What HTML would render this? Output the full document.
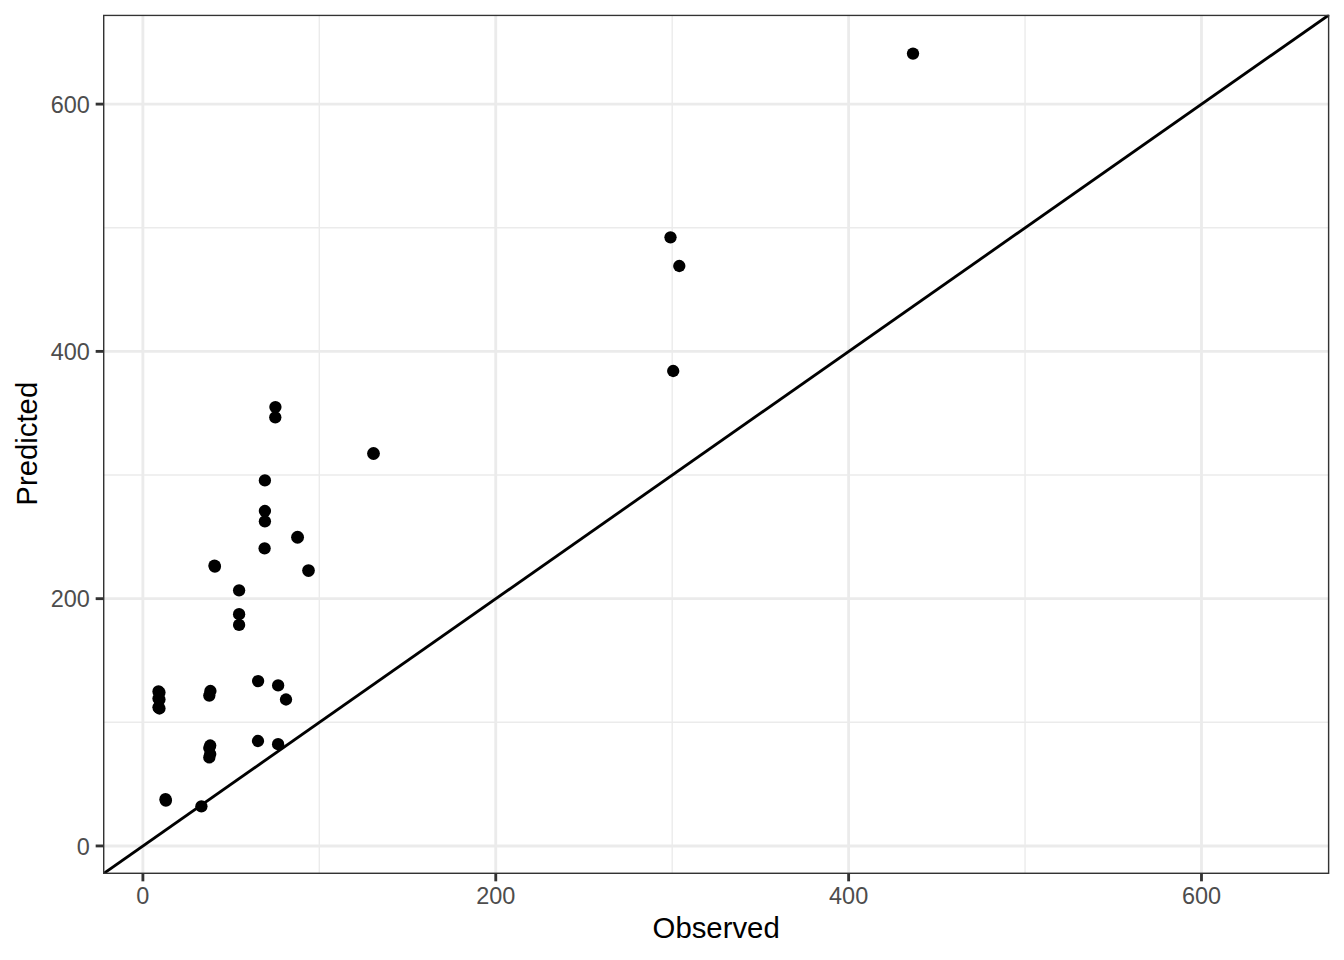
<!DOCTYPE html>
<html><head><meta charset="utf-8"><title>Observed vs Predicted</title>
<style>html,body{margin:0;padding:0;background:#fff;width:1344px;height:960px;overflow:hidden}svg{display:block}text{font-family:"Liberation Sans",Arial,Helvetica,sans-serif}</style></head><body>
<svg width="1344" height="960" viewBox="0 0 1344 960">
<rect x="0" y="0" width="1344" height="960" fill="#fff"/>
<defs><clipPath id="pc"><rect x="103.0" y="14.67" width="1226.33" height="859.33"/></clipPath></defs>
<g clip-path="url(#pc)">
<line x1="103.0" x2="1329.33" y1="722.31" y2="722.31" stroke="#EBEBEB" stroke-width="1.42"/>
<line x1="103.0" x2="1329.33" y1="475.03" y2="475.03" stroke="#EBEBEB" stroke-width="1.42"/>
<line x1="103.0" x2="1329.33" y1="227.75" y2="227.75" stroke="#EBEBEB" stroke-width="1.42"/>
<line y1="14.67" y2="874.0" x1="319.33" x2="319.33" stroke="#EBEBEB" stroke-width="1.42"/>
<line y1="14.67" y2="874.0" x1="672.19" x2="672.19" stroke="#EBEBEB" stroke-width="1.42"/>
<line y1="14.67" y2="874.0" x1="1025.05" x2="1025.05" stroke="#EBEBEB" stroke-width="1.42"/>
<line x1="103.0" x2="1329.33" y1="845.95" y2="845.95" stroke="#EBEBEB" stroke-width="2.85"/>
<line x1="103.0" x2="1329.33" y1="598.67" y2="598.67" stroke="#EBEBEB" stroke-width="2.85"/>
<line x1="103.0" x2="1329.33" y1="351.39" y2="351.39" stroke="#EBEBEB" stroke-width="2.85"/>
<line x1="103.0" x2="1329.33" y1="104.11" y2="104.11" stroke="#EBEBEB" stroke-width="2.85"/>
<line y1="14.67" y2="874.0" x1="142.90" x2="142.90" stroke="#EBEBEB" stroke-width="2.85"/>
<line y1="14.67" y2="874.0" x1="495.76" x2="495.76" stroke="#EBEBEB" stroke-width="2.85"/>
<line y1="14.67" y2="874.0" x1="848.62" x2="848.62" stroke="#EBEBEB" stroke-width="2.85"/>
<line y1="14.67" y2="874.0" x1="1201.48" x2="1201.48" stroke="#EBEBEB" stroke-width="2.85"/>
<line x1="103.0" y1="874.0" x2="1329.33" y2="14.67" stroke="#000" stroke-width="2.85" stroke-linecap="butt"/>
<circle cx="913.0" cy="53.6" r="6.16" fill="#000"/>
<circle cx="670.5" cy="237.3" r="6.16" fill="#000"/>
<circle cx="679.3" cy="266.0" r="6.16" fill="#000"/>
<circle cx="673.2" cy="371.0" r="6.16" fill="#000"/>
<circle cx="275.4" cy="407.1" r="6.16" fill="#000"/>
<circle cx="275.3" cy="417.3" r="6.16" fill="#000"/>
<circle cx="373.5" cy="453.5" r="6.4" fill="#000"/>
<circle cx="264.9" cy="480.4" r="6.16" fill="#000"/>
<circle cx="264.9" cy="511.0" r="6.16" fill="#000"/>
<circle cx="264.9" cy="521.3" r="6.16" fill="#000"/>
<circle cx="297.56" cy="537.2" r="6.45" fill="#000"/>
<circle cx="264.6" cy="548.3" r="6.16" fill="#000"/>
<circle cx="214.5" cy="565.6" r="6.16" fill="#000"/>
<circle cx="214.9" cy="566.6" r="6.16" fill="#000"/>
<circle cx="308.5" cy="570.55" r="6.35" fill="#000"/>
<circle cx="239.1" cy="590.3" r="6.16" fill="#000"/>
<circle cx="239.1" cy="614.2" r="6.16" fill="#000"/>
<circle cx="239.1" cy="624.9" r="6.16" fill="#000"/>
<circle cx="158.5" cy="691.4" r="6.16" fill="#000"/>
<circle cx="159.45" cy="692.5" r="6.16" fill="#000"/>
<circle cx="158.5" cy="698.5" r="6.16" fill="#000"/>
<circle cx="159.45" cy="699.6" r="6.16" fill="#000"/>
<circle cx="158.5" cy="707.3" r="6.16" fill="#000"/>
<circle cx="159.45" cy="708.5" r="6.16" fill="#000"/>
<circle cx="210.4" cy="691.0" r="6.16" fill="#000"/>
<circle cx="209.3" cy="695.6" r="6.16" fill="#000"/>
<circle cx="258.1" cy="681.1" r="6.16" fill="#000"/>
<circle cx="278.15" cy="685.4" r="6.16" fill="#000"/>
<circle cx="286.0" cy="699.5" r="6.16" fill="#000"/>
<circle cx="210.2" cy="745.5" r="6.16" fill="#000"/>
<circle cx="209.3" cy="748.0" r="6.16" fill="#000"/>
<circle cx="210.2" cy="754.0" r="6.16" fill="#000"/>
<circle cx="209.3" cy="757.4" r="6.16" fill="#000"/>
<circle cx="258.0" cy="741.0" r="6.16" fill="#000"/>
<circle cx="278.1" cy="744.2" r="6.16" fill="#000"/>
<circle cx="165.5" cy="799.2" r="6.16" fill="#000"/>
<circle cx="165.9" cy="800.6" r="6.16" fill="#000"/>
<circle cx="201.4" cy="806.3" r="6.16" fill="#000"/>
<rect x="103.0" y="14.67" width="1226.33" height="859.33" fill="none" stroke="#333333" stroke-width="2.85"/>
</g>
<line x1="95.67" x2="103.0" y1="845.95" y2="845.95" stroke="#333333" stroke-width="2.85"/>
<line x1="95.67" x2="103.0" y1="598.67" y2="598.67" stroke="#333333" stroke-width="2.85"/>
<line x1="95.67" x2="103.0" y1="351.39" y2="351.39" stroke="#333333" stroke-width="2.85"/>
<line x1="95.67" x2="103.0" y1="104.11" y2="104.11" stroke="#333333" stroke-width="2.85"/>
<line y1="874.0" y2="881.33" x1="142.90" x2="142.90" stroke="#333333" stroke-width="2.85"/>
<line y1="874.0" y2="881.33" x1="495.76" x2="495.76" stroke="#333333" stroke-width="2.85"/>
<line y1="874.0" y2="881.33" x1="848.62" x2="848.62" stroke="#333333" stroke-width="2.85"/>
<line y1="874.0" y2="881.33" x1="1201.48" x2="1201.48" stroke="#333333" stroke-width="2.85"/>
<text x="89.80" y="854.75" font-size="23.47" fill="#4D4D4D" text-anchor="end">0</text>
<text x="89.80" y="607.47" font-size="23.47" fill="#4D4D4D" text-anchor="end">200</text>
<text x="89.80" y="360.19" font-size="23.47" fill="#4D4D4D" text-anchor="end">400</text>
<text x="89.80" y="112.91" font-size="23.47" fill="#4D4D4D" text-anchor="end">600</text>
<text x="142.90" y="903.7" font-size="23.47" fill="#4D4D4D" text-anchor="middle">0</text>
<text x="495.76" y="903.7" font-size="23.47" fill="#4D4D4D" text-anchor="middle">200</text>
<text x="848.62" y="903.7" font-size="23.47" fill="#4D4D4D" text-anchor="middle">400</text>
<text x="1201.48" y="903.7" font-size="23.47" fill="#4D4D4D" text-anchor="middle">600</text>
<text x="716.16" y="938.3" font-size="29.33" fill="#000" text-anchor="middle">Observed</text>
<text transform="translate(36.6 443.73) rotate(-90)" x="0" y="0" font-size="29.33" fill="#000" text-anchor="middle">Predicted</text>
</svg>
</body></html>
